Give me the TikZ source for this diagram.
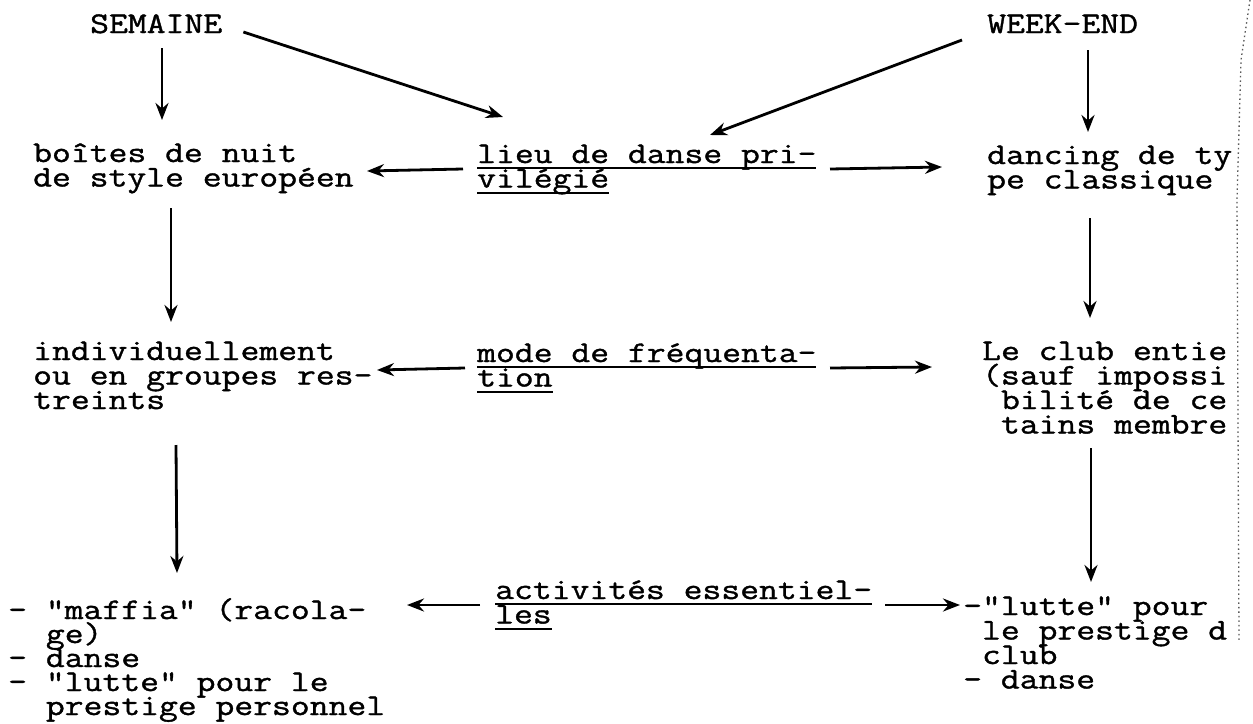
\documentclass[tikz,border=0pt]{standalone}
\usepackage{fontspec}
\newfontfamily\tw[FakeStretch=1.22,FakeBold=1.2]{Latin Modern Mono}
\usetikzlibrary{arrows.meta,calc}
\newcommand\ml[1]{\vtop{\baselineskip=24.5pt\lineskiplimit=-100pt\lineskip=0pt\halign{##\hfil\cr#1\crcr}}}
\newcommand\mlt[1]{\vtop{\baselineskip=24pt\lineskiplimit=-100pt\lineskip=0pt\halign{##\hfil\cr#1\crcr}}}
\newcommand\ul[1]{\vtop{\hbox{\vphantom{A}\smash{#1}}\kern4pt\hrule height 2.2pt}}
\newcommand\ind{\phantom{x}}
\tikzset{
  txt/.style={inner sep=0pt, anchor=base west, font=\tw\fontsize{30}{24.5}\selectfont},
  arr/.style={line width=2.8pt, -{Stealth[length=17pt,width=13pt]}},
  artifact/.style={black!65, line width=1.3pt, dash pattern=on 1.5pt off 3pt}
}
\begin{document}
\begin{tikzpicture}[x=1pt,y=1pt]
\fill[white] (0,0) rectangle (1253,-723);
\useasboundingbox (0,0) rectangle (1253,-723);

\node[txt] (semaine) at (90,-33) {SEMAINE};
\node[txt] (weekend) at (987,-33) {WEEK-END};
\node[txt] (boites) at (33,-162) {\ml{boîtes de nuit\cr de style européen}};
\node[txt] (lieu) at (477,-163) {\ml{\ul{lieu de danse pri-}\cr\ul{vilégié}}};
\node[txt] (dancing) at (987,-164) {\ml{dancing de ty\cr pe classique}};
\node[txt] (indiv) at (33,-360) {\ml{individuellement\cr ou en groupes res-\cr treints}};
\node[txt] (mode) at (477,-362) {\ml{\ul{mode de fréquenta-}\cr\ul{tion}}};
\node[txt] (club) at (982,-360) {\ml{Le club entie\cr (sauf impossi\cr\ind bilité de ce\cr\ind tains membre}};
\node[txt] (maffia) at (8,-619) {\mlt{- "maffia" (racola-\cr\ind\ind ge)\cr - danse\cr - "lutte" pour le\cr\ind\ind prestige personnel}};
\node[txt] (activ) at (495,-599) {\ml{\ul{activités essentiel-}\cr\ul{les}}};
\node[txt] (lutte) at (963,-615) {\ml{-"lutte" pour\cr\ind le prestige d\cr\ind club\cr - danse}};

% top diagonal arrows
\draw[arr] ($(semaine.base east)+(21,1)$) -- ($(lieu.base west)+(26,46)$);
\draw[arr] ($(weekend.base west)+(-25,-7)$) -- ($(lieu.base west)+(233,28)$);
% vertical arrows
\draw[arr] ($(semaine.base west)+(72,-15)$) -- ($(boites.base west)+(129,42)$);
\draw[arr] ($(weekend.base west)+(101,-17)$) -- ($(dancing.base west)+(101,32)$);
\draw[arr] ($(boites.base west)+(138,-46)$) -- ($(indiv.base west)+(138,38)$);
\draw[arr] ($(dancing.base west)+(103,-54)$) -- ($(club.base west)+(108,42)$);
\draw[arr] ($(indiv.base west)+(143,-85)$) -- ($(maffia.base west)+(169,46)$);
\draw[arr] ($(club.base west)+(109,-88)$) -- ($(lutte.base west)+(128,33)$);
% horizontal arrows
\draw[arr] ($(lieu.base west)+(-14,-6)$) -- ($(boites.base west)+(334,-9)$);
\draw[arr] ($(lieu.base west)+(353,-6)$) -- ($(dancing.base west)+(-45,-3)$);
\draw[arr] ($(mode.base west)+(-12,-6)$) -- ($(indiv.base west)+(344,-10)$);
\draw[arr] ($(mode.base west)+(353,-6)$) -- ($(club.base west)+(-50,-7)$);
\draw[arr] ($(activ.base west)+(-15,-6)$) -- ($(maffia.base west)+(399,14)$);
\draw[arr] ($(activ.base west)+(390,-6)$) -- ($(lutte.base west)+(-3,10)$);

% scan artifact at the page edge
\draw[artifact] (1250,0) -- (1241,-60) -- (1237,-200) -- (1239,-640);
\end{tikzpicture}
\end{document}
